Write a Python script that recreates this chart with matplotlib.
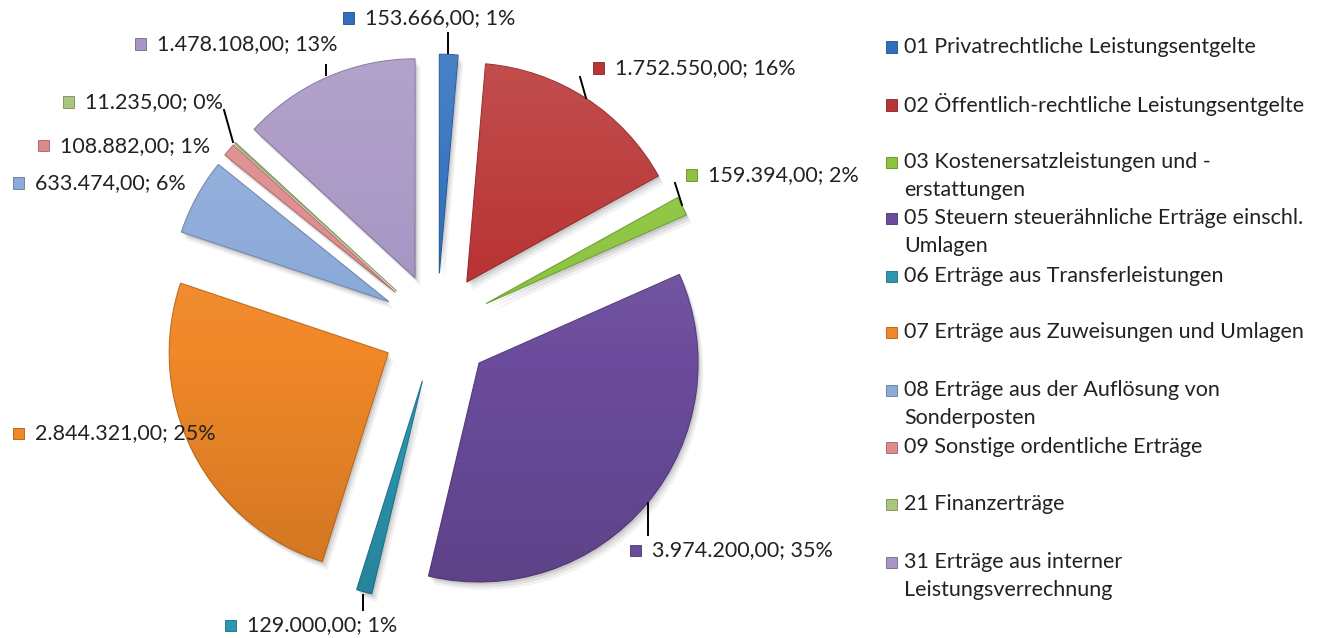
import matplotlib
matplotlib.use('Agg')
import matplotlib.pyplot as plt
import numpy as np
from matplotlib.patches import Rectangle
from matplotlib.lines import Line2D
import matplotlib.colors as mcolors

# ---------------- data ----------------
categories = [
    "01 Privatrechtliche Leistungsentgelte",
    "02 Öffentlich-rechtliche Leistungsentgelte",
    "03 Kostenersatzleistungen und -\nerstattungen",
    "05 Steuern steuerähnliche Erträge einschl.\nUmlagen",
    "06 Erträge aus Transferleistungen",
    "07 Erträge aus Zuweisungen und Umlagen",
    "08 Erträge aus der Auflösung von\nSonderposten",
    "09 Sonstige ordentliche Erträge",
    "21 Finanzerträge",
    "31 Erträge aus interner\nLeistungsverrechnung",
]
values = [153666, 1752550, 159394, 3974200, 129000, 2844321, 633474, 108882, 11235, 1478108]
value_labels = ["153.666,00", "1.752.550,00", "159.394,00", "3.974.200,00", "129.000,00",
                "2.844.321,00", "633.474,00", "108.882,00", "11.235,00", "1.478.108,00"]
pct_labels = ["1%", "16%", "2%", "35%", "1%", "25%", "6%", "1%", "0%", "13%"]
colors = ["#2F6FBE", "#B93434", "#8CC43E", "#6B4C9C", "#2C97B3",
          "#F08828", "#8BA9D9", "#DE8A8A", "#A8C67C", "#A796C4"]

# ---------------- layout ----------------
W, H = 1326, 638
R = 219.0
CX, CY = 437.0, 328.0
FONT = "Lato"
FS = 15.5

fig = plt.figure(figsize=(W / 100, H / 100), dpi=100)
ax = fig.add_axes([0, 0, 1, 1])


def d(px, py):
    return ((px - CX) / R, (CY - py) / R)


def darker(c, f=0.75):
    r, g, b = mcolors.to_rgb(c)
    return (r * f, g * f, b * f)


wedges, _ = ax.pie(values, colors=colors, explode=[0.25] * len(values), startangle=90,
                   counterclock=False, radius=1.0, center=(0, 0),
                   wedgeprops=dict(linewidth=0.8))
for w, c in zip(wedges, colors):
    w.set_edgecolor(darker(c, 0.8))
    w.set_zorder(3)
    # soft shadow
    for k, a in [(1, 0.10), (2, 0.07), (3, 0.05)]:
        sh = matplotlib.patches.Wedge((w.center[0] + 0.008 * k, w.center[1] - 0.012 * k), w.r,
                                      w.theta1, w.theta2, facecolor="#000000", alpha=a,
                                      edgecolor="none", zorder=1)
        ax.add_patch(sh)
    # vertical gradient overlay (lighter top, darker bottom)
    grad = np.zeros((100, 2, 4))
    t = np.linspace(0, 1, 100)[:, None]
    grad[..., 0:3] = np.where(t < 0.5, 1.0, 0.0)[..., None] * np.ones(3)
    grad[..., 3] = (np.abs(t - 0.5) * 0.28)[:, 0][:, None]
    x0, y0 = w.center
    im = ax.imshow(grad, extent=(x0 - 1.1, x0 + 1.1, y0 - 1.1, y0 + 1.1), origin="upper",
                   zorder=4, interpolation="bilinear", aspect="auto")
    im.set_clip_path(w)

ax.set_xlim(-CX / R, (W - CX) / R)
ax.set_ylim(-(H - CY) / R, CY / R)
ax.set_aspect("auto")
ax.axis("off")

# ---------------- data labels ----------------
label_pos = [(348, 18), (598, 68), (691, 175), (635, 550), (230, 625),
             (18, 433), (18, 183), (43, 146), (68, 102), (140, 44)]
leaders = {0: ((448, 33), (448, 53)), 1: ((580, 77), (586, 98)), 2: ((675, 183), (682, 205)),
           3: ((648, 503), (648, 535)), 4: ((363, 595), (363, 610)),
           8: ((224, 110), (233, 142)), 9: ((326, 65), (326, 75))}

SQ = 11


def square(px, py, c):
    fig.add_artist(Rectangle(((px - SQ / 2) / W, 1 - (py + SQ / 2) / H), SQ / W, SQ / H,
                             transform=fig.transFigure, facecolor=c,
                             edgecolor=darker(c, 0.7), linewidth=0.6, zorder=6))


for i, (px, py) in enumerate(label_pos):
    square(px, py, colors[i])
    fig.text((px + 17) / W, 1 - py / H, f"{value_labels[i]}; {pct_labels[i]}",
             fontsize=FS, family=FONT, color="#222222", va="center", ha="left", zorder=7)

for i, (p1, p2) in leaders.items():
    x1, y1 = d(*p1)
    x2, y2 = d(*p2)
    ax.add_line(Line2D([x1, x2], [y1, y2], color="black", linewidth=1.4, zorder=8))

# ---------------- legend ----------------
leg_y = [47, 105, 162, 218, 276, 332, 390, 447, 504, 562]
for i, cat in enumerate(categories):
    square(892, leg_y[i], colors[i])
    for j, line in enumerate(cat.split("\n")):
        fig.text(904 / W, 1 - (leg_y[i] + 28 * j) / H, line, fontsize=FS, family=FONT,
                 color="#222222", va="center", ha="left")

fig.savefig("out.png", dpi=100, facecolor="white")
